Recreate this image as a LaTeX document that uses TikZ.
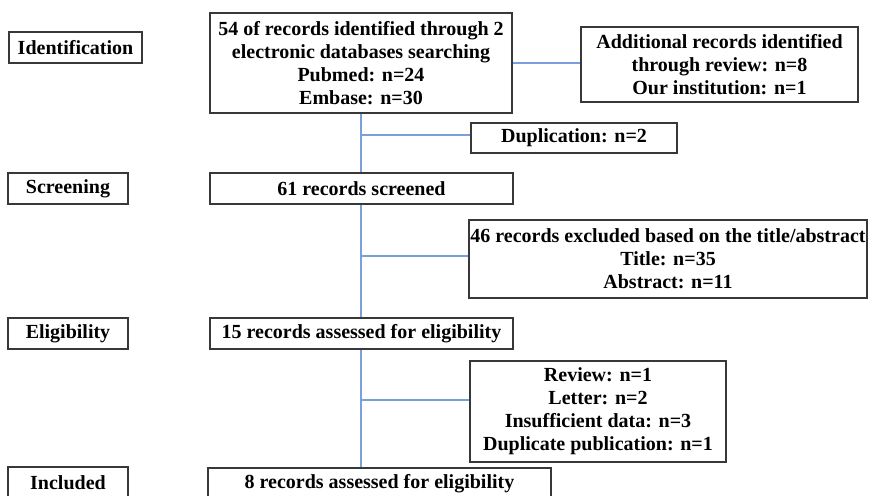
\documentclass[tikz,border=0pt]{standalone}
\usepackage{fontspec}
\setmainfont{Liberation Serif}
\usetikzlibrary{positioning}
\definecolor{linkblue}{HTML}{7B9FDE}
\definecolor{framegrey}{HTML}{383838}
\tikzset{
  box/.style={draw=framegrey, line width=1.3pt, fill=white, align=center,
              inner sep=0pt, font=\fontsize{20}{23}\selectfont\bfseries},
  link/.style={linkblue, line width=1.2pt},
}

\begin{document}
\begin{tikzpicture}[x=1pt, y=-1pt]
        \useasboundingbox (0,0) rectangle (869,495);
        \clip (0,0) rectangle (869,495);
        % stage labels on the left
        \foreach \n/\t/\x/\y/\w/\h in {ident/Identification/75.5/47.5/133/31, screen/Screening/68/188.5/120/31,
                                       elig/Eligibility/68/333.5/120/31, incl/Included/68/483/120/32}
          { \node[box, minimum width=\w, minimum height=\h] (\n) at (\x,\y) {\t}; }
        % main column
        \node[box, minimum width=302, minimum height=100] (search) at (361,63)
          {54 of records identified through 2\\electronic databases searching\\Pubmed: n=24\\Embase: n=30};
        \node[box, minimum width=303, minimum height=31] (screened) at (361.5,188.5) {61 records screened};
        \node[box, minimum width=303, minimum height=31] (assessed) at (361.5,333.5) {15 records assessed for eligibility};
        \node[box, minimum width=343, minimum height=32] (final) at (379.5,484) {8 records assessed for eligibility};
        % side boxes
        \node[box, minimum width=277, minimum height=75] (addit) at (719.5,64.5)
          {Additional records identified\\through review: n=8\\Our institution: n=1};
        \node[box, minimum width=206, minimum height=30] (dup) at (574,138) {Duplication: n=2};
        \node[box, minimum width=398, minimum height=78] (excl1) at (668,259)
          {46 records excluded based on the title/abstract\\Title: n=35\\Abstract: n=11};
        \node[box, minimum width=256, minimum height=101] (excl2) at (598,411.5)
          {Review: n=1\\Letter: n=2\\Insufficient data: n=3\\Duplicate publication: n=1};
        % connectors
        \coordinate (b1) at (361,135);
        \coordinate (b2) at (361,256);
        \coordinate (b3) at (361,400);
        \draw[link] (search.east) -- (search.east -| addit.west);
        \draw[link] (search.south) -- (search.south |- screened.north);
        \draw[link] (search.south |- screened.south) -- (search.south |- assessed.north);
        \draw[link] (search.south |- assessed.south) -- (search.south |- final.north);
        \draw[link] (b1) -- (b1 -| dup.west);
        \draw[link] (b2) -- (b2 -| excl1.west);
        \draw[link] (b3) -- (b3 -| excl2.west);
      \end{tikzpicture}
\end{document}
